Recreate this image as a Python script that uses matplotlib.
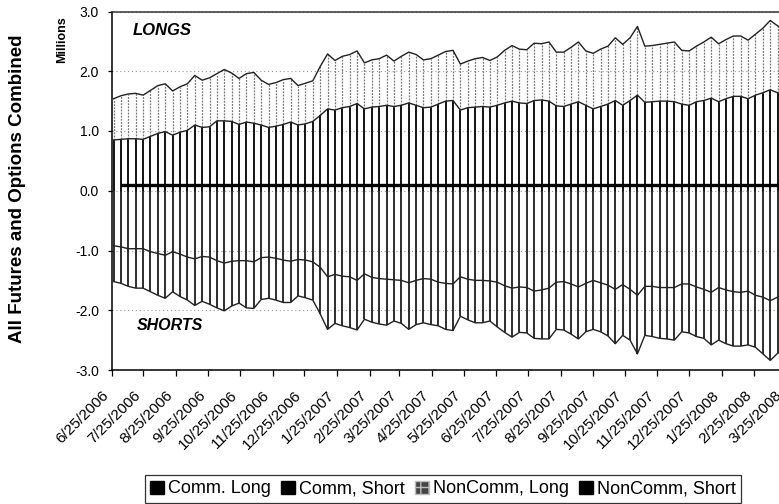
import matplotlib
matplotlib.use("Agg")
import matplotlib.pyplot as plt
import matplotlib.transforms as mtransforms
from matplotlib.patches import Patch
import numpy as np
import pandas as pd

# weekly positions, millions of contracts
dates = pd.date_range("2006-06-27", periods=92, freq="7D")

comm_long = [
    0.85, 0.86, 0.87, 0.87, 0.86, 0.91, 0.96, 0.99, 0.93, 0.98,
    1.01, 1.10, 1.06, 1.07, 1.17, 1.17, 1.16, 1.11, 1.15, 1.13,
    1.10, 1.06, 1.08, 1.11, 1.15, 1.10, 1.12, 1.16, 1.26, 1.37,
    1.35, 1.39, 1.41, 1.46, 1.37, 1.40, 1.41, 1.43, 1.41, 1.43,
    1.47, 1.43, 1.39, 1.40, 1.45, 1.50, 1.51, 1.35, 1.39, 1.40,
    1.41, 1.40, 1.43, 1.47, 1.50, 1.47, 1.46, 1.51, 1.52, 1.50,
    1.42, 1.41, 1.45, 1.49, 1.43, 1.37, 1.41, 1.45, 1.51, 1.43,
    1.51, 1.60, 1.48, 1.49, 1.50, 1.50, 1.49, 1.45, 1.43, 1.49,
    1.51, 1.55, 1.49, 1.54, 1.58, 1.58, 1.54, 1.60, 1.64, 1.69,
    1.64, 1.62,
]
# top of the longs stack (comm + noncomm)
total_long = [
    1.54, 1.59, 1.62, 1.63, 1.60, 1.68, 1.76, 1.79, 1.67, 1.74,
    1.79, 1.93, 1.85, 1.89, 1.96, 2.03, 1.97, 1.88, 1.96, 1.98,
    1.85, 1.78, 1.81, 1.86, 1.88, 1.76, 1.80, 1.84, 2.08, 2.29,
    2.18, 2.25, 2.28, 2.34, 2.14, 2.19, 2.21, 2.27, 2.17, 2.25,
    2.32, 2.28, 2.19, 2.21, 2.27, 2.33, 2.35, 2.12, 2.17, 2.21,
    2.23, 2.18, 2.24, 2.35, 2.43, 2.37, 2.36, 2.47, 2.46, 2.49,
    2.32, 2.32, 2.40, 2.49, 2.34, 2.30, 2.37, 2.42, 2.56, 2.45,
    2.56, 2.75, 2.42, 2.43, 2.45, 2.47, 2.49, 2.35, 2.34, 2.42,
    2.49, 2.57, 2.46, 2.53, 2.59, 2.59, 2.52, 2.62, 2.72, 2.85,
    2.76, 2.68,
]
comm_short = [
    -0.92, -0.94, -0.97, -0.97, -0.97, -1.02, -1.05, -1.08, -1.02, -1.06,
    -1.11, -1.14, -1.10, -1.11, -1.17, -1.21, -1.18, -1.17, -1.17, -1.19,
    -1.12, -1.11, -1.13, -1.16, -1.18, -1.15, -1.16, -1.19, -1.28, -1.44,
    -1.40, -1.43, -1.44, -1.50, -1.39, -1.45, -1.47, -1.48, -1.49, -1.50,
    -1.54, -1.50, -1.47, -1.48, -1.53, -1.55, -1.56, -1.44, -1.48, -1.50,
    -1.50, -1.51, -1.53, -1.59, -1.63, -1.61, -1.62, -1.68, -1.66, -1.63,
    -1.53, -1.52, -1.56, -1.61, -1.55, -1.50, -1.54, -1.58, -1.65, -1.57,
    -1.65, -1.75, -1.60, -1.60, -1.62, -1.62, -1.62, -1.56, -1.56, -1.61,
    -1.65, -1.70, -1.62, -1.66, -1.69, -1.70, -1.68, -1.75, -1.78, -1.84,
    -1.78, -1.76,
]
# bottom of the shorts stack (comm + noncomm)
total_short = [
    -1.52, -1.55, -1.60, -1.63, -1.63, -1.69, -1.75, -1.80, -1.69, -1.77,
    -1.83, -1.92, -1.85, -1.90, -1.96, -2.01, -1.93, -1.88, -1.96, -1.97,
    -1.82, -1.80, -1.83, -1.87, -1.87, -1.76, -1.79, -1.83, -2.06, -2.32,
    -2.22, -2.26, -2.29, -2.33, -2.15, -2.20, -2.23, -2.25, -2.18, -2.22,
    -2.32, -2.24, -2.21, -2.24, -2.26, -2.32, -2.34, -2.10, -2.16, -2.21,
    -2.21, -2.18, -2.28, -2.37, -2.45, -2.37, -2.38, -2.47, -2.48, -2.48,
    -2.32, -2.33, -2.40, -2.48, -2.36, -2.32, -2.36, -2.43, -2.56, -2.42,
    -2.50, -2.73, -2.42, -2.44, -2.47, -2.48, -2.50, -2.36, -2.38, -2.44,
    -2.47, -2.58, -2.50, -2.56, -2.60, -2.60, -2.58, -2.62, -2.73, -2.84,
    -2.72, -2.68,
]
base_line = 0.09  # the heavy horizontal line just above zero

tick_labels = [
    "6/25/2006", "7/25/2006", "8/25/2006", "9/25/2006", "10/25/2006",
    "11/25/2006", "12/25/2006", "1/25/2007", "2/25/2007", "3/25/2007",
    "4/25/2007", "5/25/2007", "6/25/2007", "7/25/2007", "8/25/2007",
    "9/25/2007", "10/25/2007", "11/25/2007", "12/25/2007", "1/25/2008",
    "2/25/2008", "3/25/2008",
]
y_ticks = [3.0, 2.0, 1.0, 0.0, -1.0, -2.0, -3.0]
legend_labels = ["Comm. Long", "Comm, Short", "NonComm, Long", "NonComm, Short"]

plt.rcParams["font.family"] = ["Liberation Sans", "DejaVu Sans"]

W, H = 779, 504
fig = plt.figure(figsize=(W / 100, H / 100), dpi=100)

x_min = pd.Timestamp("2006-06-25")
x_max = pd.Timestamp("2008-04-25")
px_per_day = 1.054
ax_left, ax_top, ax_bottom = 111.5, 11.5, 370.0
ax_w = (x_max - x_min).days * px_per_day
ax = fig.add_axes([ax_left / W, 1 - ax_bottom / H, ax_w / W, (ax_bottom - ax_top) / H])

# drop lines give the striped look of the original fills
ax.vlines(dates, 0, comm_long, color="black", lw=1.3, zorder=2)
ax.vlines(dates, comm_long, total_long, color="#777777", lw=0.9,
          linestyles=(0, (1.5, 1)), zorder=2)
ax.vlines(dates, total_short, 0, color="black", lw=1.15, zorder=2)

for series in (comm_long, total_long, comm_short, total_short):
    ax.plot(dates, series, color="#222222", lw=1.0, zorder=3)

ax.plot(dates[1:], [base_line] * (len(dates) - 1), color="black", lw=2.4,
        solid_capstyle="butt", zorder=4)

ax.set_xlim(x_min, x_max)
ax.set_ylim(-3, 3)
ax.set_yticks(y_ticks)
ax.set_yticklabels([f"{v:.1f}" for v in y_ticks], fontsize=10)

tick_dates = [pd.Timestamp(t) for t in tick_labels]
ax.set_xticks(tick_dates)
ax.set_xticklabels(tick_labels, fontsize=11, rotation=45, ha="right",
                   rotation_mode="default")
shift = mtransforms.ScaledTranslation(-8 / 100, 0, fig.dpi_scale_trans)
for lbl in ax.get_xticklabels():
    lbl.set_transform(lbl.get_transform() + shift)

ax.tick_params(axis="x", direction="out", length=4, width=0.9, pad=9)
ax.tick_params(axis="y", direction="out", length=3, width=0.9, pad=6)

ax.yaxis.grid(True, color="#9a9a9a", lw=0.8, linestyle=(0, (1, 2.5)))
ax.set_axisbelow(True)
for side in ("left", "bottom"):
    ax.spines[side].set_color("black")
    ax.spines[side].set_linewidth(1.1)
ax.spines["top"].set_color("#333333")
ax.spines["top"].set_linewidth(1.1)
ax.spines["right"].set_visible(False)

fig.text(133 / W, 1 - 35 / H, "LONGS", fontsize=12, fontweight="bold",
         fontstyle="italic", ha="left", va="baseline")
fig.text(137 / W, 1 - 330 / H, "SHORTS", fontsize=11.5, fontweight="bold",
         fontstyle="italic", ha="left", va="baseline")
fig.text(62 / W, 1 - 40 / H, "Millions", fontsize=9, fontweight="bold",
         rotation=90, ha="center", va="center")
fig.text(18 / W, 1 - 189 / H, "All Futures and Options Combined", fontsize=13.5,
         fontweight="bold", rotation=90, ha="center", va="center")

handles = [
    Patch(facecolor="black", edgecolor="black"),
    Patch(facecolor="black", edgecolor="black"),
    Patch(facecolor="#444444", edgecolor="#bbbbbb", hatch="++"),
    Patch(facecolor="black", edgecolor="black"),
]
leg = fig.legend(handles, legend_labels, ncol=4, loc="upper left",
                 bbox_to_anchor=(145 / W, 1 - 475 / H), fontsize=13,
                 frameon=True, fancybox=False, handlelength=0.75,
                 handleheight=0.75, handletextpad=0.25, columnspacing=0.55,
                 borderpad=0.3, borderaxespad=0)
leg.get_frame().set_edgecolor("black")
leg.get_frame().set_linewidth(0.9)

fig.savefig("out.png", dpi=100)
